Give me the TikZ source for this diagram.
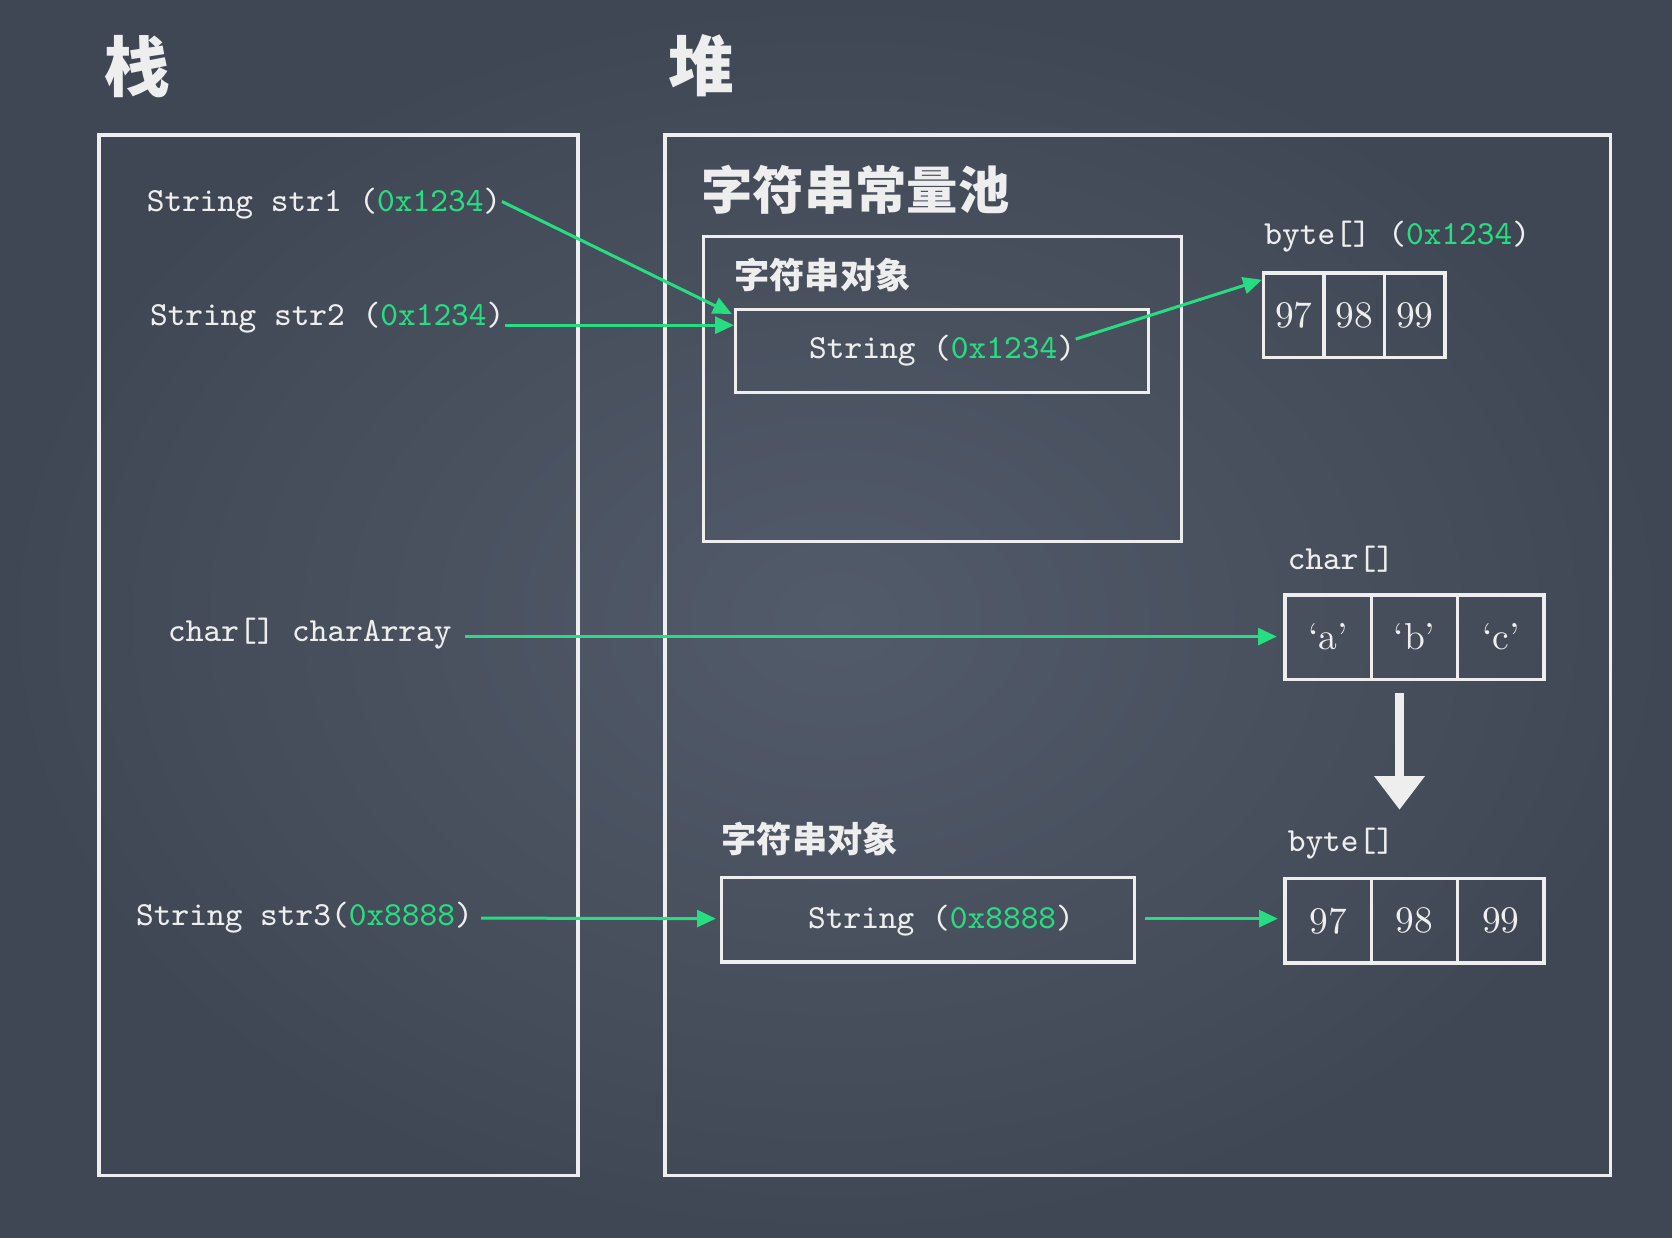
\documentclass[tikz,border=0pt]{standalone}
\usepackage{fontspec}
\usepackage{tikz}
\usetikzlibrary{calc, arrows.meta, positioning, shadings}
\newfontfamily\cjk{Noto Sans CJK SC}
\definecolor{bgin}{RGB}{82, 91, 106}
\definecolor{bgout}{RGB}{64, 71, 84}
\definecolor{chalk}{RGB}{238, 238, 238}
\definecolor{gr}{RGB}{38, 222, 129}
\newcommand{\addr}[1]{\textcolor{gr}{#1}}

\begin{document}
\begin{tikzpicture}[x=0.01cm, y=-0.01cm,
		txt/.style={inner sep=0pt, text=chalk, anchor=west, font=\fontsize{9}{11}\selectfont\ttfamily},
		han/.style={inner sep=0pt, text=chalk, anchor=west},
		box/.style={draw=chalk, line width=0.9pt, inner sep=0pt},
		cell/.style={box, minimum height=0.79cm, text=chalk, font=\fontsize{10}{12}\selectfont},
		ptr/.style={draw=gr, line width=0.8pt, -{Triangle[length=5pt, width=4.5pt]}},
		conv/.style={draw=chalk, line width=2.2pt, -{Triangle[length=9pt, width=13pt]}}]
	\useasboundingbox (0,0) rectangle (1568,1161);
	\fill[inner color=bgin, outer color=bgout] (0,0) rectangle (1568,1161);
	
	\node[han, font=\fontsize{17.5}{20}\selectfont\cjk\bfseries] (zhan) at (97,62) {栈};
	\node[han, font=\fontsize{17.5}{20}\selectfont\cjk\bfseries] (dui) at (626,62) {堆};
	
	\node[box, minimum width=4.49cm, minimum height=9.75cm] (stack) at (317.5,614.5) {};
	\node[box, minimum width=8.86cm, minimum height=9.75cm] (heap) at (1067,614.5) {};
	
	\node[han, font=\fontsize{13.7}{16}\selectfont\cjk\bfseries] (pooltit) at (657,178) {字符串常量池};
	\node[box, minimum width=4.48cm, minimum height=2.86cm] (pool) at (884,365) {};
	\node[han, font=\fontsize{9.4}{11}\selectfont\cjk\bfseries] (objtit) at (688,258) {字符串对象};
	\node[box, minimum width=3.87cm, minimum height=0.78cm] (pstr) at (883.5,329) {};
	\node[txt, anchor=center] (pstrt) at (pstr.center) {String (\addr{0x1234})};
	
	\node[txt] (bytetit) at (1185,222) {byte[] (\addr{0x1234})};
	\foreach \v [count=\i] in {97,98,99}
		\node[cell, minimum width=0.567cm] (bt\i) at ({1185+56.7*(\i-0.5)},295.5) {\v};
	
	\node[txt] (chartit) at (1207,524) {char[]};
	\foreach \v [count=\i] in {a,b,c}
		\node[cell, minimum width=0.81cm] (cc\i) at ({1205+81*(\i-0.5)},597.5) {`\v'};
	
	\node[txt] (bytetit2) at (1207,791) {byte[]};
	\foreach \v [count=\i] in {97,98,99}
		\node[cell, minimum width=0.81cm] (bb\i) at ({1205+81*(\i-0.5)},863.5) {\v};
	
	\node[han, font=\fontsize{9.4}{11}\selectfont\cjk\bfseries] (objtit2) at (676,787) {字符串对象};
	\node[box, minimum width=3.87cm, minimum height=0.79cm] (hstr) at (870.5,862.5) {};
	\node[txt, anchor=center] (hstrt) at ($(hstr.center)+(12,1)$) {String (\addr{0x8888})};
	
	% stack
	\node[txt] (s1) at (137,191) {String str1 (\addr{0x1234})};
	\node[txt] (s2) at (140,298) {String str2 (\addr{0x1234})};
	\node[txt] (carr) at (157,594) {char[] charArray};
	\node[txt] (s3) at (127,861) {String str3(\addr{0x8888})};
	
	% references
	\draw[ptr] ($(s1.east)+(0,-2)$) -- ($(pstr.north west)+(-2,6)$);
	\coordinate (s2r) at ($(s2.east)+(0,7)$);
	\draw[ptr] (s2r) -- (s2r -| pstr.west);
	\draw[ptr] ($(pstrt.east)+(0,-11)$) -- ($(bt1.north west)+(0,8)$);
	\coordinate (car) at ($(carr.east)+(12,3)$);
	\draw[ptr] (car) -- ($(car -| cc1.west)+(-6,0)$);
	\draw[ptr] ($(s3.east)+(7,0)$) -- ($(hstr.west)+(-4,-1)$);
	\draw[ptr] ($(hstr.east)+(8,-1)$) -- ($(bb1.west)+(-5,-2)$);
	
	\draw[conv] ($(cc2.south)+(-14,11)$) -- ($(bb2.north)+(-14,-63)$);
\end{tikzpicture}
\end{document}
